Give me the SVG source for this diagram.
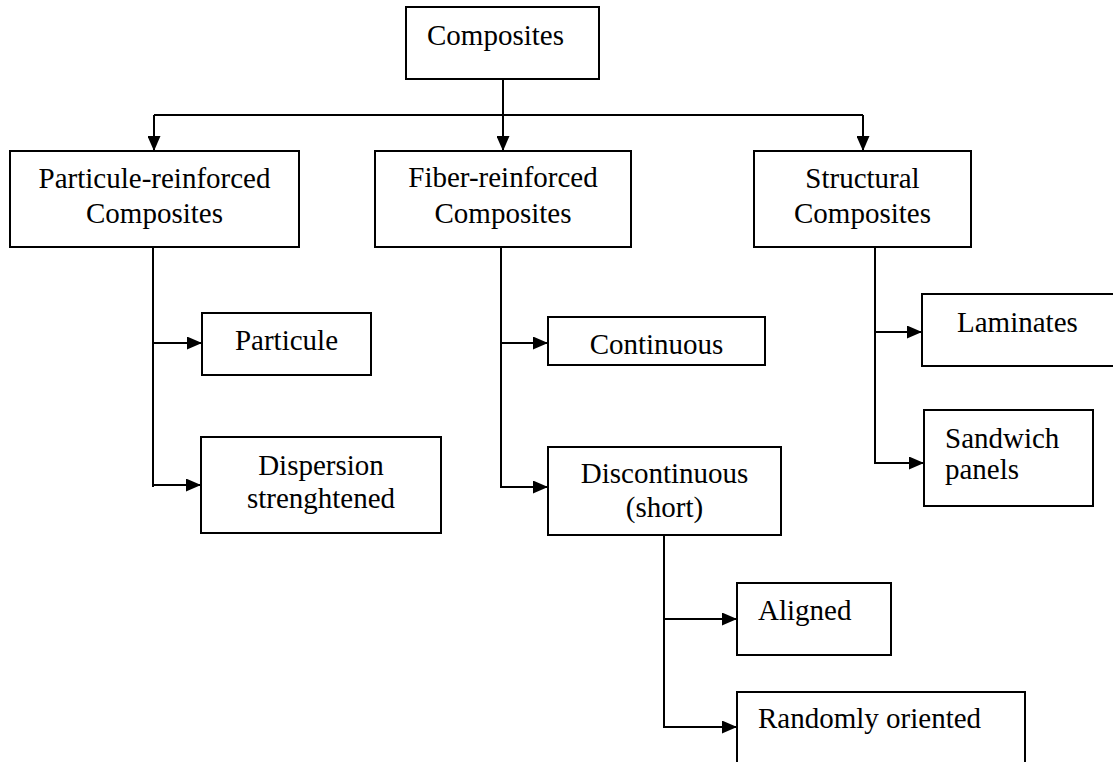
<svg xmlns="http://www.w3.org/2000/svg" width="1113" height="762" viewBox="0 0 1113 762">
<style>
.box{fill:#fff;stroke:#000;stroke-width:2}
.t{font-family:"Liberation Serif","Times New Roman",serif;font-size:29px;fill:#000}
.c{text-anchor:middle}
.ln{fill:none;stroke:#000;stroke-width:2}
</style>
<defs>
<marker id="ah" markerUnits="userSpaceOnUse" markerWidth="15" markerHeight="13" refX="15" refY="6.5" orient="auto">
<path d="M0,0 L15,6.5 L0,13 z" fill="#000"/>
</marker>
</defs>
<rect width="1113" height="762" fill="#fff"/>
<g id="connectors">
<path class="ln" d="M503,79 V115"/>
<path class="ln" d="M154,115 H863"/>
<path class="ln" d="M154,115 V151" marker-end="url(#ah)"/>
<path class="ln" d="M503,115 V151" marker-end="url(#ah)"/>
<path class="ln" d="M863,115 V151" marker-end="url(#ah)"/>
<path class="ln" d="M153,247 V487"/>
<path class="ln" d="M153,343 H202" marker-end="url(#ah)"/>
<path class="ln" d="M153,485 H201" marker-end="url(#ah)"/>
<path class="ln" d="M501,247 V488"/>
<path class="ln" d="M501,343 H548" marker-end="url(#ah)"/>
<path class="ln" d="M501,487 H548" marker-end="url(#ah)"/>
<path class="ln" d="M875,247 V464"/>
<path class="ln" d="M875,332 H922" marker-end="url(#ah)"/>
<path class="ln" d="M875,463 H924" marker-end="url(#ah)"/>
<path class="ln" d="M664,535 V728"/>
<path class="ln" d="M664,619 H737" marker-end="url(#ah)"/>
<path class="ln" d="M664,727 H737" marker-end="url(#ah)"/>
</g>
<g id="composites">
<rect class="box" x="406" y="7" width="193" height="72"/>
<text class="t" x="427" y="45">Composites</text>
</g>
<g id="particule-reinforced">
<rect class="box" x="10" y="151" width="289" height="96"/>
<text class="t c" x="154.5" y="188">Particule-reinforced</text>
<text class="t c" x="154.5" y="223">Composites</text>
</g>
<g id="fiber-reinforced">
<rect class="box" x="375" y="151" width="256" height="96"/>
<text class="t c" x="503" y="187">Fiber-reinforced</text>
<text class="t c" x="503" y="223">Composites</text>
</g>
<g id="structural">
<rect class="box" x="754" y="151" width="217" height="96"/>
<text class="t c" x="862.5" y="188">Structural</text>
<text class="t c" x="862.5" y="223">Composites</text>
</g>
<g id="particule">
<rect class="box" x="202" y="313" width="169" height="62"/>
<text class="t c" x="286.5" y="350">Particule</text>
</g>
<g id="dispersion">
<rect class="box" x="201" y="437" width="240" height="96"/>
<text class="t c" x="321" y="475">Dispersion</text>
<text class="t c" x="321" y="508">strenghtened</text>
</g>
<g id="continuous">
<rect class="box" x="548" y="317" width="217" height="48"/>
<text class="t c" x="656.5" y="354">Continuous</text>
</g>
<g id="discontinuous">
<rect class="box" x="548" y="447" width="233" height="88"/>
<text class="t c" x="664.5" y="483">Discontinuous</text>
<text class="t c" x="664.5" y="517">(short)</text>
</g>
<g id="laminates">
<rect class="box" x="922" y="294" width="200" height="72"/>
<text class="t" x="957" y="332">Laminates</text>
</g>
<g id="sandwich">
<rect class="box" x="924" y="410" width="169" height="96"/>
<text class="t" x="945" y="448">Sandwich</text>
<text class="t" x="945" y="479">panels</text>
</g>
<g id="aligned">
<rect class="box" x="737" y="583" width="154" height="72"/>
<text class="t" x="758" y="620">Aligned</text>
</g>
<g id="randomly">
<rect class="box" x="737" y="692" width="288" height="80"/>
<text class="t" x="758" y="728">Randomly oriented</text>
</g>
</svg>
